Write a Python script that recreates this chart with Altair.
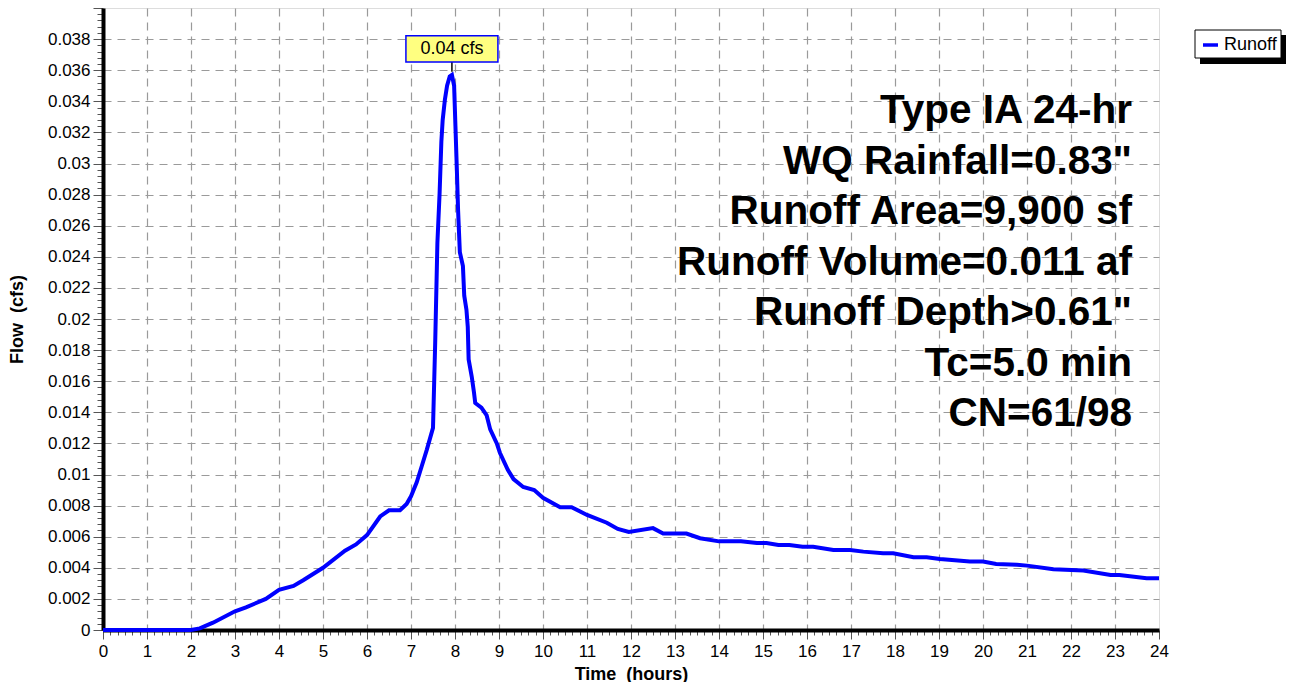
import altair as alt
import pandas as pd

# ---------------- data ----------------
time_h = [0.0, 2.0, 2.2, 2.5, 3.0, 3.25, 3.7, 4.0, 4.33, 4.55, 5.0, 5.5, 5.75, 6.0,
          6.3, 6.5, 6.75, 6.9, 7.0, 7.13, 7.24, 7.36, 7.5, 7.55, 7.6, 7.65, 7.69,
          7.72, 7.77, 7.82, 7.88, 7.93, 7.98, 8.01, 8.04, 8.07, 8.11, 8.18, 8.21,
          8.26, 8.29, 8.31, 8.38, 8.43, 8.46, 8.6, 8.72, 8.8, 8.95, 9.02, 9.2, 9.33,
          9.55, 9.8, 10.0, 10.39, 10.65, 11.0, 11.45, 11.7, 11.95, 12.5, 12.73,
          13.26, 13.57, 14.0, 14.5, 14.86, 15.08, 15.35, 15.6, 15.9, 16.14, 16.6,
          16.98, 17.28, 17.73, 17.96, 18.42, 18.72, 19.02, 19.7, 20.0, 20.3, 20.77,
          21.0, 21.6, 22.28, 22.9, 23.1, 23.72, 24.0]
flow_cfs = [0.0, 0.0, 0.0001, 0.00047, 0.0012, 0.00146, 0.0020, 0.00258, 0.00283,
            0.0032, 0.0040, 0.0051, 0.0055, 0.0061, 0.0073, 0.0077, 0.0077, 0.0081,
            0.0086, 0.0095, 0.0105, 0.0116, 0.0130, 0.0185, 0.0249, 0.0281, 0.0314,
            0.0328, 0.0341, 0.0350, 0.0356, 0.0357, 0.0350, 0.0324, 0.0298, 0.0270,
            0.0243, 0.0234, 0.0215, 0.0206, 0.0195, 0.0174, 0.0163, 0.0153, 0.0146,
            0.0143, 0.0138, 0.0129, 0.0120, 0.0114, 0.0103, 0.0097, 0.0092, 0.0090,
            0.0085, 0.0079, 0.0079, 0.0074, 0.0069, 0.0065, 0.0063, 0.00655, 0.0062,
            0.0062, 0.0059, 0.0057, 0.0057, 0.0056, 0.0056, 0.00547, 0.00547, 0.00536,
            0.00536, 0.00515, 0.00515, 0.00504, 0.00494, 0.00494, 0.00468, 0.00468,
            0.00457, 0.0044, 0.0044, 0.00425, 0.00419, 0.00414, 0.0039, 0.00382,
            0.00354, 0.00354, 0.00333, 0.00333]

series_name = "Runoff"
peak_label = "0.04 cfs"
info_lines = ["Type IA 24-hr", "WQ Rainfall=0.83\"", "Runoff Area=9,900 sf",
              "Runoff Volume=0.011 af", "Runoff Depth>0.61\"", "Tc=5.0 min",
              "CN=61/98"]

x_tick_labels = [str(i) for i in range(25)]
y_tick_labels = ["0", "0.002", "0.004", "0.006", "0.008", "0.01", "0.012", "0.014",
                 "0.016", "0.018", "0.02", "0.022", "0.024", "0.026", "0.028",
                 "0.03", "0.032", "0.034", "0.036", "0.038"]

# tick positions (majors + minors)
x_ticks = [round(i / 6, 6) for i in range(0, 24 * 6 + 1)]
y_ticks = [round(i * 0.0004, 6) for i in range(0, 101)]

FONT = "Liberation Sans"
W, H = 1056, 622

df = pd.DataFrame({"time": time_h, "flow": flow_cfs})
pk = df["flow"].idxmax()
peak_df = df.loc[[pk]].assign(label=peak_label)
one = pd.DataFrame({"k": [0]})

x_major_test = "abs(datum.value - round(datum.value)) < 1e-6"
y_major_test = "abs(datum.value*500 - round(datum.value*500)) < 1e-6"

x_axis = alt.Axis(
    values=x_ticks, tickCount=len(x_ticks),
    labelExpr=f"{x_major_test} ? format(round(datum.value), 'd') : ''",
    labelOverlap=False, labelFlush=False, labelFont=FONT, labelFontSize=17,
    labelColor="black", labelPadding=4,
    tickSize={"condition": {"test": x_major_test, "value": 9}, "value": 5},
    tickColor="#555", tickWidth=1,
    domainColor="black", domainWidth=4,
    grid=True, gridColor="#9a9a9a", gridDash=[8, 6], gridWidth=1.2,
    gridOpacity={"condition": {"test": x_major_test + " && datum.value > 0.01 && datum.value < 23.99", "value": 1}, "value": 0},
    title="Time\u00a0\u00a0(hours)", titleFont=FONT, titleFontSize=18,
    titleFontWeight="bold", titleColor="black", titlePadding=6,
)
y_axis = alt.Axis(
    values=y_ticks, tickCount=len(y_ticks),
    labelExpr=f"{y_major_test} && datum.value < 0.039 ? format(datum.value, '.3~f') : ''",
    labelOverlap=False, labelFlush=False, labelFont=FONT, labelFontSize=17,
    labelColor="black", labelPadding=3,
    tickSize={"condition": {"test": y_major_test, "value": 10}, "value": 6},
    tickColor="#555", tickWidth=1,
    domainColor="black", domainWidth=4,
    grid=True, gridColor="#9a9a9a", gridDash=[8, 6], gridWidth=1.2,
    gridOpacity={"condition": {"test": y_major_test + " && datum.value > 0.0001 && datum.value < 0.039", "value": 1}, "value": 0},
    title="Flow\u00a0\u00a0(cfs)", titleFont=FONT, titleFontSize=18,
    titleFontWeight="bold", titleColor="black", titlePadding=21,
)

xs = alt.Scale(domain=[0, 24], nice=False, zero=False)
ys = alt.Scale(domain=[0, 0.04], nice=False, zero=False)

line = alt.Chart(df).mark_line(color="#0000ff", strokeWidth=4).encode(
    x=alt.X("time:Q", scale=xs, axis=x_axis),
    y=alt.Y("flow:Q", scale=ys, axis=y_axis),
)

stem = alt.Chart(peak_df).mark_rule(color="black", strokeWidth=1.5, yOffset=-3, y2Offset=-13).encode(
    x="time:Q", y="flow:Q", y2="flow:Q")
box = alt.Chart(peak_df).mark_point(
    shape="M-1,-0.283H1V0.283H-1Z", size=92 * 92, filled=True, fill="#ffff80",
    stroke="#0000ff", strokeWidth=1.5, opacity=1, yOffset=-26).encode(
    x="time:Q", y="flow:Q")
box_text = alt.Chart(peak_df).mark_text(
    font=FONT, fontSize=18, color="black", baseline="middle", align="center", dy=-26).encode(
    x="time:Q", y="flow:Q", text="label:N")

layers = [line, stem, box, box_text]

for i, t in enumerate(info_lines):
    layers.append(
        alt.Chart(one).mark_text(font=FONT, fontSize=40.5, fontWeight="bold", color="black",
                                 align="right", baseline="alphabetic").encode(
            x=alt.value(1029), y=alt.value(115 + i * 50.5), text=alt.value(t)))

# legend (custom, with drop shadow)
layers.append(alt.Chart(one).mark_rect(color="black").encode(
    x=alt.value(1097), x2=alt.value(1183), y=alt.value(27), y2=alt.value(56)))
layers.append(alt.Chart(one).mark_rect(fill="white", stroke="black", strokeWidth=1).encode(
    x=alt.value(1092), x2=alt.value(1178), y=alt.value(22), y2=alt.value(50)))
layers.append(alt.Chart(one).mark_rule(color="#0000ff", strokeWidth=3.5).encode(
    x=alt.value(1100), x2=alt.value(1115), y=alt.value(37)))
layers.append(alt.Chart(one).mark_text(font=FONT, fontSize=18, color="black",
                                       align="left", baseline="middle").encode(
    x=alt.value(1121), y=alt.value(37), text=alt.value(series_name)))

chart = alt.layer(*layers).properties(
    width=W, height=H,
    autosize=alt.AutoSizeParams(type="none"),
    padding={"left": 95, "top": 0, "right": 127, "bottom": 52},
).configure_view(stroke="black", strokeWidth=1.5).configure(font=FONT)

chart.save("out.html", embed_options={"renderer": "svg", "actions": False})
